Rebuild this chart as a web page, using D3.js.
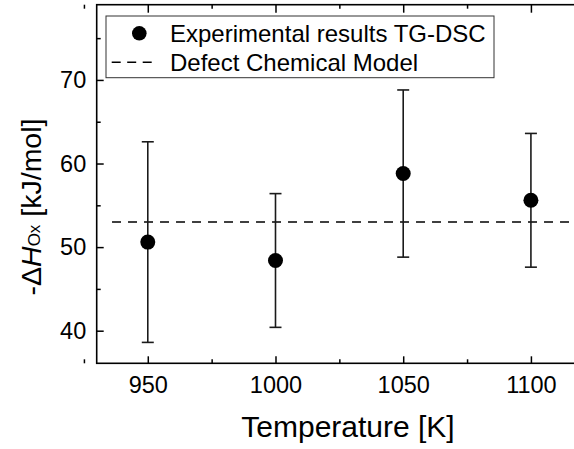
<!DOCTYPE html>
<html>
<head>
<meta charset="utf-8">
<script src="https://cdn.jsdelivr.net/npm/d3@7"></script>
<style>
  body { margin: 0; background: #fff; }
  svg { display: block; }
  text { font-family: "Liberation Sans", Arial, sans-serif; fill: #000; }
</style>
</head>
<body>
<svg width="574" height="449"></svg>
<script>
// ---- data
const temperatures = [950, 1000, 1050, 1100];
const enthalpy = [50.6, 48.4, 58.8, 55.6];
const enthalpyErr = [12, 8, 10, 8];
const modelValue = 53;
const modelRange = [936, 1120];
const xTicks = [950, 1000, 1050, 1100];
const xMinorTicks = [925, 975, 1025, 1075, 1125];
const yTicks = [40, 50, 60, 70];
const yMinorTicks = [45, 55, 65, 75];
const legendLabels = ['Experimental results TG-DSC', 'Defect Chemical Model'];

const svg = d3.select('svg');

// plot box (right edge falls just outside the window, as in the original)
const box = { left: 96.7, right: 582, top: 4.7, bottom: 363.3 };

const x = d3.scaleLinear().domain([930, 1120]).range([box.left, box.right]);
const y = d3.scaleLinear().domain([36.1, 79]).range([box.bottom, box.top]);

const points = temperatures.map((t, i) => ({ t, v: enthalpy[i], e: enthalpyErr[i] }));

// ---- axes (ticks point inward)
function styleAxis(g) {
  g.select('.domain').remove();
  g.selectAll('.tick line').attr('stroke', '#000').attr('stroke-width', 1.5);
  g.selectAll('.tick text').style('font-size', '23.5px');
}

svg.append('g')
  .attr('transform', `translate(0,${box.bottom})`)
  .call(d3.axisBottom(x).tickValues(xTicks).tickSizeInner(-7).tickSizeOuter(0).tickPadding(13).tickFormat(d3.format('d')))
  .call(styleAxis);
svg.append('g')
  .attr('transform', `translate(0,${box.bottom})`)
  .call(d3.axisBottom(x).tickValues(xMinorTicks).tickSize(-4).tickFormat(''))
  .call(styleAxis);

svg.append('g')
  .attr('transform', `translate(0,${box.top})`)
  .call(d3.axisTop(x).tickValues(xTicks).tickSize(-8).tickFormat(''))
  .call(styleAxis);
svg.append('g')
  .attr('transform', `translate(0,${box.top})`)
  .call(d3.axisTop(x).tickValues(xMinorTicks).tickSize(-4).tickFormat(''))
  .call(styleAxis);

svg.append('g')
  .attr('transform', `translate(${box.left},0)`)
  .call(d3.axisLeft(y).tickValues(yTicks).tickSizeInner(-7).tickSizeOuter(0).tickPadding(10.5).tickFormat(d3.format('d')))
  .call(styleAxis);
svg.append('g')
  .attr('transform', `translate(${box.left},0)`)
  .call(d3.axisLeft(y).tickValues(yMinorTicks).tickSize(-4).tickFormat(''))
  .call(styleAxis);

svg.append('g')
  .attr('transform', `translate(${box.right},0)`)
  .call(d3.axisRight(y).tickValues(yTicks).tickSize(-8).tickFormat(''))
  .call(styleAxis);
svg.append('g')
  .attr('transform', `translate(${box.right},0)`)
  .call(d3.axisRight(y).tickValues(yMinorTicks).tickSize(-4).tickFormat(''))
  .call(styleAxis);

// frame
svg.append('rect')
  .attr('x', box.left)
  .attr('y', box.top)
  .attr('width', box.right - box.left)
  .attr('height', box.bottom - box.top)
  .attr('fill', 'none')
  .attr('stroke', '#000')
  .attr('stroke-width', 1.6);

// ---- axis titles
svg.append('text')
  .attr('x', 348)
  .attr('y', 437)
  .attr('text-anchor', 'middle')
  .style('font-size', '30px')
  .text('Temperature [K]');

const yTitle = svg.append('text')
  .attr('transform', 'translate(41,207) rotate(-90)')
  .attr('text-anchor', 'middle')
  .style('font-size', '28.5px');
yTitle.append('tspan').text('-\u0394');
yTitle.append('tspan').style('font-style', 'italic').text('H');
yTitle.append('tspan').attr('dy', -1).style('font-size', '17px').text('Ox');
yTitle.append('tspan').attr('dy', 1).text(' [kJ/mol]');

// ---- model line
svg.append('line')
  .attr('x1', x(modelRange[0]))
  .attr('x2', x(modelRange[1]))
  .attr('y1', y(modelValue))
  .attr('y2', y(modelValue))
  .attr('stroke', '#000')
  .attr('stroke-width', 1.6)
  .attr('stroke-dasharray', '9,7');

// ---- error bars
const bars = svg.append('g').attr('stroke', '#1a1a1a').attr('stroke-width', 1.6);
bars.selectAll('.err')
  .data(points)
  .enter()
  .append('line')
  .attr('x1', d => x(d.t))
  .attr('x2', d => x(d.t))
  .attr('y1', d => y(d.v - d.e))
  .attr('y2', d => y(d.v + d.e));
bars.selectAll('.cap-top')
  .data(points)
  .enter()
  .append('line')
  .attr('x1', d => x(d.t) - 6)
  .attr('x2', d => x(d.t) + 6)
  .attr('y1', d => y(d.v + d.e))
  .attr('y2', d => y(d.v + d.e));
bars.selectAll('.cap-bottom')
  .data(points)
  .enter()
  .append('line')
  .attr('x1', d => x(d.t) - 6)
  .attr('x2', d => x(d.t) + 6)
  .attr('y1', d => y(d.v - d.e))
  .attr('y2', d => y(d.v - d.e));

// ---- points
svg.selectAll('.pt')
  .data(points)
  .enter()
  .append('circle')
  .attr('class', 'pt')
  .attr('cx', d => x(d.t))
  .attr('cy', d => y(d.v))
  .attr('r', 7.5)
  .attr('fill', '#000');

// ---- legend
const lg = svg.append('g');
lg.append('rect')
  .attr('x', 106)
  .attr('y', 16)
  .attr('width', 388)
  .attr('height', 61.7)
  .attr('fill', '#fff')
  .attr('stroke', '#333')
  .attr('stroke-width', 1);
lg.append('circle')
  .attr('cx', 139.3)
  .attr('cy', 33.3)
  .attr('r', 7.3)
  .attr('fill', '#000');
lg.append('line')
  .attr('x1', 111.7)
  .attr('x2', 151.7)
  .attr('y1', 62.3)
  .attr('y2', 62.3)
  .attr('stroke', '#000')
  .attr('stroke-width', 1.6)
  .attr('stroke-dasharray', '9,6.5');
lg.selectAll('.lg-text')
  .data(legendLabels)
  .enter()
  .append('text')
  .attr('x', 170)
  .attr('y', (d, i) => 41.7 + i * 29)
  .style('font-size', '24px')
  .text(d => d);
</script>
</body>
</html>
